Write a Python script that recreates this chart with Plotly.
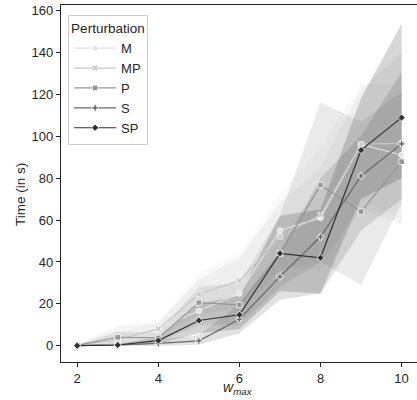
import plotly.graph_objects as go

w_max = [2, 3, 4, 5, 6, 7, 8, 9, 10]
series = ["M", "MP", "P", "S", "SP"]

M_mean = [0.2, 2.0, 8.0, 16.7, 25.0, 55.0, 61.0, 96.0, 91.0]
MP_mean = [0.2, 3.0, 8.1, 24.6, 31.1, 52.0, 62.4, 96.2, 96.5]
P_mean = [0.2, 4.1, 3.8, 20.6, 19.5, 44.0, 76.7, 64.0, 87.8]
S_mean = [0.1, 0.4, 1.2, 2.4, 12.7, 33.0, 52.0, 81.0, 96.3]
SP_mean = [0.1, 0.4, 2.5, 12.1, 14.8, 44.1, 42.0, 93.3, 108.8]

M_lo = [0.0, 0.5, 3.0, 8.0, 12.0, 38.0, 35.0, 70.0, 60.0]
M_hi = [0.5, 6.0, 11.0, 34.6, 44.0, 72.0, 95.0, 125.0, 125.0]
MP_lo = [0.0, 1.0, 4.0, 15.0, 18.0, 36.0, 40.0, 65.0, 58.0]
MP_hi = [0.5, 9.5, 11.0, 31.7, 42.0, 68.0, 85.0, 122.0, 139.5]
P_lo = [0.0, 1.0, 2.0, 10.0, 10.0, 28.0, 40.0, 29.0, 68.0]
P_hi = [0.5, 7.0, 6.0, 28.0, 30.0, 62.0, 116.0, 107.0, 121.0]
S_lo = [0.0, 0.0, 0.0, 0.5, 6.0, 22.0, 25.0, 55.0, 70.0]
S_hi = [0.5, 1.0, 3.0, 5.0, 20.0, 45.0, 80.0, 100.0, 130.6]
SP_lo = [0.0, 0.0, 1.0, 6.0, 8.0, 26.0, 25.0, 70.0, 80.0]
SP_hi = [0.5, 1.0, 4.0, 20.0, 24.0, 62.0, 65.0, 118.0, 153.6]

colors = {"M": (226, 226, 226), "MP": (198, 198, 198), "P": (150, 150, 150),
          "S": (104, 104, 104), "SP": (48, 48, 48)}
symbols = {"M": "circle", "MP": "x", "P": "square", "S": "cross", "SP": "diamond"}
means = {"M": M_mean, "MP": MP_mean, "P": P_mean, "S": S_mean, "SP": SP_mean}
los = {"M": M_lo, "MP": MP_lo, "P": P_lo, "S": S_lo, "SP": SP_lo}
his = {"M": M_hi, "MP": MP_hi, "P": P_hi, "S": S_hi, "SP": SP_hi}

FONT = "Liberation Sans, Arial"
fig = go.Figure()
for s in series:
    r, g, b = colors[s]
    fig.add_trace(go.Scatter(
        x=w_max + w_max[::-1], y=his[s] + los[s][::-1],
        fill="toself", fillcolor=f"rgba({r},{g},{b},0.2)",
        line=dict(width=0), mode="lines", showlegend=False, hoverinfo="skip"))
for s in series:
    r, g, b = colors[s]
    fig.add_trace(go.Scatter(
        x=w_max, y=means[s], name=s, mode="lines+markers",
        line=dict(color=f"rgb({r},{g},{b})", width=1.2),
        marker=dict(symbol=symbols[s], size=5.5, color=f"rgb({r},{g},{b})",
                    line=dict(color="white", width=0.8))))

axis_common = dict(showline=True, mirror=True, linecolor="#262626", linewidth=1.2,
                   ticks="outside", ticklen=4, tickwidth=1.2, tickcolor="#262626",
                   showgrid=False, zeroline=False,
                   tickfont=dict(family=FONT, size=13, color="#262626"))
fig.update_xaxes(range=[1.6, 10.38], tickvals=[2, 4, 6, 8, 10], **axis_common)
fig.update_yaxes(range=[-7.7, 162.5], tickvals=[0, 20, 40, 60, 80, 100, 120, 140, 160], **axis_common)

fig.add_annotation(text="Time (in s)", xref="paper", yref="paper", x=-0.112, y=0.468,
                   textangle=-90, showarrow=False, xanchor="center", yanchor="middle",
                   font=dict(family=FONT, size=13.5, color="#262626"))
fig.add_annotation(text="<i>w</i><sub><i>max</i></sub>", xref="paper", yref="paper",
                   x=0.497, y=-0.074, showarrow=False, xanchor="center", yanchor="middle",
                   font=dict(family=FONT, size=14, color="#262626"))

fig.update_layout(
    width=417, height=400, margin=dict(l=61, r=0, t=5, b=38),
    plot_bgcolor="white", paper_bgcolor="white",
    legend=dict(x=0.02, y=0.973, xanchor="left", yanchor="top",
                bgcolor="rgba(255,255,255,0.8)", bordercolor="#cccccc", borderwidth=1,
                title=dict(text="Perturbation", font=dict(family=FONT, size=13.5, color="#262626")),
                font=dict(family=FONT, size=13, color="#262626"),
                tracegroupgap=0, itemwidth=42),
)
fig.write_html("out.html", config={"displayModeBar": False},
               post_script="document.body.style.margin='0';")
